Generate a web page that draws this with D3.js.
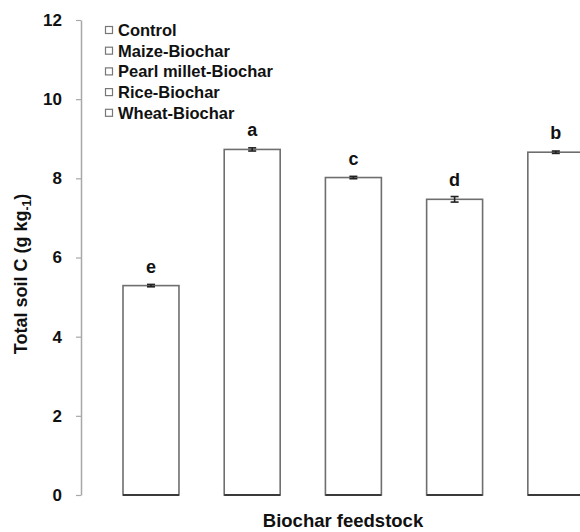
<!DOCTYPE html>
<html>
<head>
<meta charset="utf-8">
<script src="https://cdn.jsdelivr.net/npm/d3@7/dist/d3.min.js"></script>
<style>
  html, body { margin: 0; padding: 0; background: #fff; }
  svg { display: block; font-family: "Liberation Sans", Arial, sans-serif; font-weight: bold; }
</style>
</head>
<body>
<svg id="chart" width="580" height="532"></svg>
<script>
// Total soil C by biochar feedstock
const categories = ["Control", "Maize-Biochar", "Pearl millet-Biochar", "Rice-Biochar", "Wheat-Biochar"];
const values = [5.29, 8.73, 8.02, 7.47, 8.66];
const errors = [0.03, 0.04, 0.03, 0.07, 0.03];
const letters = ["e", "a", "c", "d", "b"];
const yTicks = [0, 2, 4, 6, 8, 10, 12];

const svg = d3.select("#chart");

const y = d3.scaleLinear().domain([0, 12]).range([495, 20]);
const x = d3.scaleBand().domain(categories).range([123, 583.8]).paddingInner(0.447).paddingOuter(0);

// Y axis
const yAxis = d3.axisLeft(y).tickValues(yTicks).tickSize(5).tickPadding(14).tickSizeOuter(0);
const gy = svg.append("g").attr("transform", "translate(81,0)").call(yAxis);
gy.select(".domain").attr("stroke", "#a8a8a8").attr("stroke-width", 1.5);
gy.selectAll(".tick line").attr("stroke", "#a8a8a8").attr("stroke-width", 1.2);
gy.selectAll(".tick text").attr("fill", "#111").style("font-size", "17px").style("font-weight", "bold")
  .attr("font-family", "Liberation Sans, Arial, sans-serif");

// Bars
const bars = svg.append("g");
bars.selectAll("rect").data(categories).join("rect")
  .attr("x", d => x(d))
  .attr("y", (d, i) => y(values[i]))
  .attr("width", x.bandwidth())
  .attr("height", (d, i) => y(0) - y(values[i]))
  .attr("fill", "#fff")
  .attr("stroke", "#6e6e6e")
  .attr("stroke-width", 1.6);

// Darker bottom edges
bars.selectAll("line.base").data(categories).join("line")
  .attr("class", "base")
  .attr("x1", d => x(d)).attr("x2", d => x(d) + x.bandwidth())
  .attr("y1", y(0)).attr("y2", y(0))
  .attr("stroke", "#3a3a3a").attr("stroke-width", 2);

// Error bars
const eb = svg.append("g").attr("stroke", "#222").attr("stroke-width", 1.6);
categories.forEach((c, i) => {
  const cx = x(c) + x.bandwidth() / 2;
  const hi = y(values[i] + errors[i]);
  const lo = y(values[i] - errors[i]);
  eb.append("line").attr("x1", cx).attr("x2", cx).attr("y1", hi).attr("y2", lo);
  eb.append("line").attr("x1", cx - 4).attr("x2", cx + 4).attr("y1", hi).attr("y2", hi);
  eb.append("line").attr("x1", cx - 4).attr("x2", cx + 4).attr("y1", lo).attr("y2", lo);
});

// Significance letters
svg.append("g").selectAll("text").data(categories).join("text")
  .attr("x", d => x(d) + x.bandwidth() / 2)
  .attr("y", (d, i) => y(values[i]) - 13)
  .attr("text-anchor", "middle")
  .attr("fill", "#111")
  .style("font-size", "18px")
  .text((d, i) => letters[i]);

// Legend
const legend = svg.append("g");
categories.forEach((c, i) => {
  const ly = 30 + i * 20.7;
  legend.append("rect")
    .attr("x", 105.5).attr("y", ly - 3.5).attr("width", 7).attr("height", 7)
    .attr("fill", "#fff").attr("stroke", "#777").attr("stroke-width", 1.2);
  legend.append("text")
    .attr("x", 118).attr("y", ly + 6)
    .attr("fill", "#111")
    .style("font-size", "16.5px")
    .text(c);
});

// Axis titles
svg.append("text")
  .attr("x", 343).attr("y", 527)
  .attr("text-anchor", "middle")
  .attr("fill", "#111")
  .style("font-size", "18.5px")
  .text("Biochar feedstock");

const yt = svg.append("text")
  .attr("transform", "translate(27,274) rotate(-90)")
  .attr("text-anchor", "middle")
  .attr("fill", "#111")
  .style("font-size", "18px");
yt.append("tspan").text("Total soil C (g kg");
yt.append("tspan").attr("dy", 4).style("font-size", "12px").text("-1");
yt.append("tspan").attr("dy", -4).text(")");
</script>
</body>
</html>
